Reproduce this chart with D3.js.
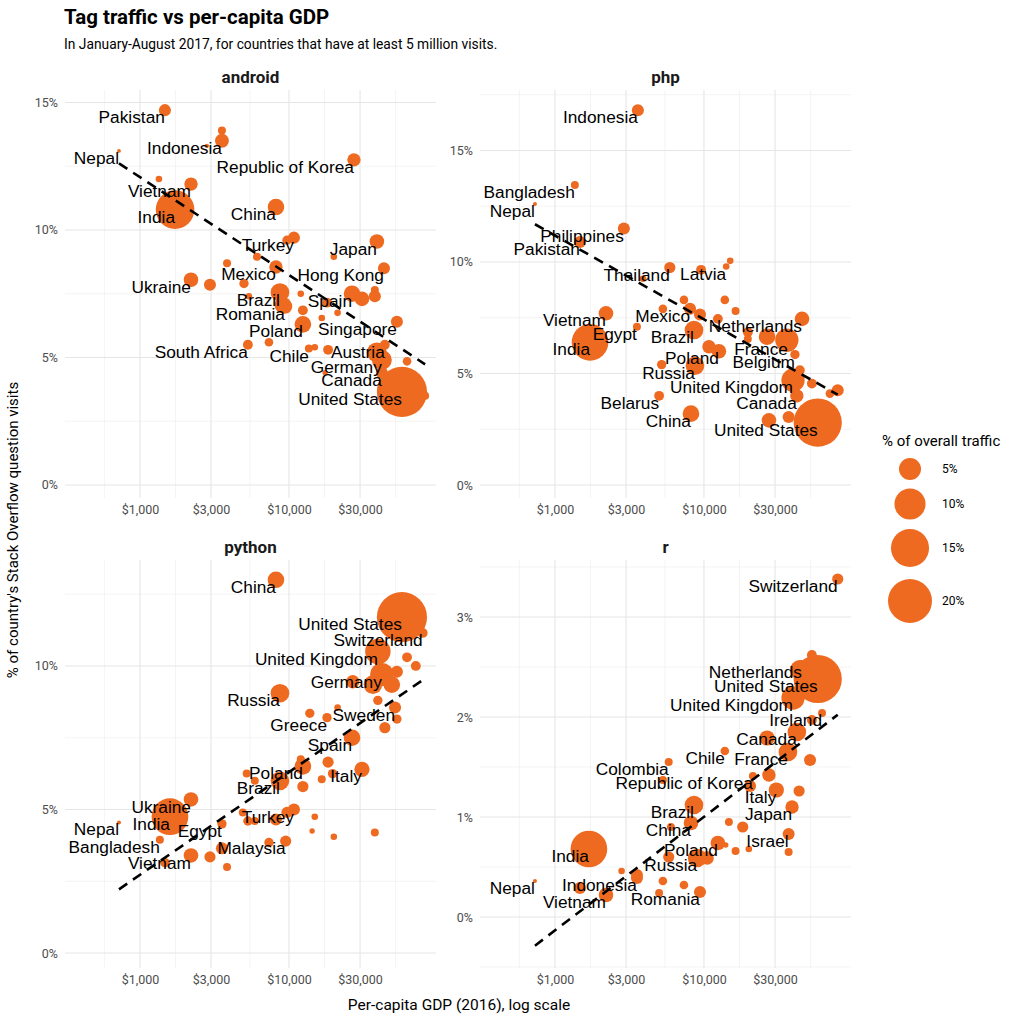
<!DOCTYPE html>
<html><head><meta charset="utf-8">
<script src="https://cdn.jsdelivr.net/npm/d3@7"></script>
<style>body{margin:0;background:#fff;font-family:Roboto,"Liberation Sans",sans-serif}</style>
</head><body>
<svg id="c" width="1024" height="1024"></svg>
<script>
// [country, per-capita GDP, % tag traffic, % overall traffic]
const androidData = [
["Pakistan",1470,14.7,1.5],["",3550,13.9,0.66],["Indonesia",3550,13.5,2.0],["",2810,13.3,0.2],
["Nepal",723,13.1,0.15],["",1340,12.0,0.45],["Vietnam",2200,11.8,1.85],["India",1720,10.8,15.4],
["China",8180,10.9,2.85],["Republic of Korea",27300,12.75,1.85],["Turkey",10800,9.7,1.5],["",9700,9.6,0.9],
["Japan",38900,9.55,2.2],["",20000,8.95,0.45],["",6100,8.95,0.66],["",3840,8.7,0.66],
["Mexico",8180,8.55,1.85],["Hong Kong",43400,8.5,1.5],["Ukraine",2200,8.05,2.2],["",2950,7.85,1.5],
["",4990,7.9,0.9],["Brazil",8700,7.55,3.6],["",9100,7.05,2.85],["Romania",9400,7.0,2.2],
["",5380,7.4,0.45],["",12000,7.5,0.45],["Spain",26500,7.5,2.85],["",30900,7.3,2.2],
["",37700,7.4,1.5],["",37700,7.65,0.66],["",18000,7.15,1.0],["",21200,6.75,0.45],
["",12400,6.85,1.0],["",16600,6.55,0.45],["Poland",12400,6.3,2.85],["Singapore",53000,6.4,1.5],
["South Africa",5300,5.5,1.0],["",7340,5.6,0.77],["Chile",13600,5.35,0.66],["",14900,5.4,0.45],
["",18300,5.3,1.0],["Austria",44000,5.5,1.0],["",38900,5.2,4.1],["Germany",42000,4.9,4.1],
["",62000,4.85,0.77],["Canada",42000,4.4,1.5],["",17500,4.4,0.3],["United States",57300,3.65,26],
["",82000,3.5,0.66]];
const phpData = [
["Indonesia",3600,16.8,1.5],["Bangladesh",1360,13.45,0.66],["Nepal",734,12.6,0.17],["Philippines",2900,11.5,1.5],
["Pakistan",1470,10.9,1.5],["Thailand",5900,9.75,1.3],["",3900,9.25,0.45],["Latvia",14100,9.8,0.45],
["",15000,10.05,0.45],["",9560,9.65,1.0],["",7340,8.3,0.77],["",13800,8.3,0.77],
["",5300,7.9,0.77],["Vietnam",2200,7.7,2.2],["Mexico",8060,7.9,1.5],["",9400,7.65,1.5],
["",12400,7.45,1.0],["",16300,7.8,0.66],["Netherlands",45500,7.45,2.2],["Egypt",3550,7.1,0.66],
["India",1720,6.4,13.9],["Brazil",8570,6.95,3.6],["",19700,6.85,1.0],["",19700,6.55,0.66],
["",26500,6.65,2.85],["",36000,6.5,5.6],["France",36600,6.4,3.6],["Belgium",40800,5.85,0.9],
["",10800,6.2,1.85],["Poland",12600,6.0,2.2],["Russia",8700,5.35,3.6],["",5200,5.4,0.9],
["United Kingdom",39600,4.7,5.6],["",44000,5.15,1.0],["",53000,4.55,1.0],["",70000,4.1,0.77],
["",79000,4.25,1.5],["Canada",42000,4.0,1.85],["Belarus",5000,4.0,1.0],["China",8180,3.2,2.85],
["",27300,2.9,2.2],["",37000,3.05,1.5],["United States",58000,2.8,24]];
const pythonData = [
["China",8180,13.0,2.85],["United States",57300,11.7,26],["Switzerland",79000,11.15,1.0],["United Kingdom",39500,10.5,6.7],
["",62000,10.3,1.0],["",71000,10.0,1.0],["Germany",42000,9.7,5.6],["",53000,9.8,1.5],
["",36600,9.35,3.6],["",49000,9.35,2.85],["",26800,9.45,1.85],["Russia",8700,9.05,3.6],
["",21200,8.55,0.45],["",13800,8.35,0.9],["Greece",18000,8.2,0.9],["",39500,8.8,0.9],
["Sweden",51500,8.55,1.5],["",53000,8.15,0.9],["",44000,7.85,1.3],["Spain",26500,7.5,2.85],
["Poland",12400,6.5,2.85],["",12000,6.75,0.66],["",18300,6.65,1.3],["Italy",30900,6.4,2.4],
["",19600,6.25,0.9],["",16600,6.05,0.66],["",5200,6.25,0.66],["",5900,6.0,0.66],
["Brazil",8700,6.0,3.6],["",12400,5.8,1.3],["Ukraine",2200,5.35,2.2],["India",1590,4.75,13.9],
["Nepal",723,4.55,0.17],["Bangladesh",1360,3.95,0.66],["Egypt",3550,4.5,0.9],["",4900,4.9,0.66],
["",5300,4.6,0.9],["",5900,4.6,0.66],["",9700,4.9,1.3],["Turkey",10800,5.0,1.5],
["",8180,4.65,1.5],["",14900,4.75,0.45],["",14300,4.25,0.3],["",20000,4.05,0.45],
["",37700,4.2,0.66],["",7340,3.85,0.9],["Malaysia",9500,3.9,1.3],["",3550,3.65,1.5],
["Vietnam",2200,3.4,2.2],["",2950,3.35,1.3],["",3840,3.0,0.66],["",1470,3.15,0.9]];
const rData = [
["Switzerland",79000,3.38,1.3],["United States",58000,2.38,24],["",53000,2.62,1.0],["",44000,2.47,4.1],
["Netherlands",45500,2.52,1.0],["United Kingdom",39600,2.19,5.6],["Ireland",62000,2.04,0.66],["",53000,1.97,1.0],
["Canada",42000,1.85,3.6],["France",36600,1.65,3.6],["",26500,1.79,2.4],["Chile",13800,1.66,0.77],
["",51500,1.57,1.5],["Colombia",5800,1.55,0.66],["",5300,1.37,0.66],["Republic of Korea",21300,1.41,0.66],
["",27300,1.42,1.85],["Italy",30600,1.27,2.4],["",43500,1.26,1.3],["",20400,1.31,1.5],
["Japan",39000,1.1,1.85],["Brazil",8570,1.12,3.6],["China",8180,0.94,2.2],["",14700,0.95,0.66],
["",18200,0.9,1.3],["",6000,0.9,0.66],["Israel",37000,0.83,1.5],["",37000,0.65,0.66],
["Poland",12400,0.74,2.2],["",14000,0.72,0.3],["",16300,0.66,0.66],["",20000,0.68,0.45],
["Russia",9000,0.59,3.6],["",10500,0.59,1.85],["India",1690,0.68,13.9],["",5800,0.6,1.3],
["",3550,0.42,1.5],["",2800,0.46,0.45],["",5300,0.36,0.77],["",7340,0.32,0.77],
["Romania",9400,0.25,1.5],["Indonesia",3550,0.39,1.5],["",1470,0.29,1.5],["Vietnam",2200,0.22,2.2],
["",5000,0.24,0.66],["Nepal",734,0.36,0.17]];
const tags = ["android","php","python","r"];
const tagData = [androidData, phpData, pythonData, rData];
const yDomains = [[-0.51,15.49],[-0.58,17.71],[-0.52,13.69],[-0.51,3.57]];
const yTicks = [[0,5,10,15],[0,5,10,15],[0,5,10],[0,1,2,3]];
const xTicks = [1000,3000,10000,30000];
const legendValues = [5,10,15,20];

const svg = d3.select("#c");
const orange = "#EE6A21";
const panels = [{x0:65,x1:436,y0:90,y1:498},{x0:480,x1:851,y0:90,y1:498},
                {x0:65,x1:436,y0:560,y1:968},{x0:480,x1:851,y0:560,y1:968}];
const rScale = d3.scaleSqrt().domain([0,20]).range([0,22]);

svg.append("text").attr("x",64).attr("y",24).attr("font-size",20.5).attr("font-weight","bold").attr("fill","#000")
  .text("Tag traffic vs per-capita GDP");
svg.append("text").attr("x",64).attr("y",49).attr("font-size",13.8).attr("fill","#000")
  .text("In January-August 2017, for countries that have at least 5 million visits.");

tags.forEach((tag,i)=>{
  const p = panels[i], data = tagData[i];
  const x = d3.scaleLog().domain([314,97000]).range([p.x0,p.x1]);
  const y = d3.scaleLinear().domain(yDomains[i]).range([p.y1,p.y0]);
  const g = svg.append("g");
  const xt = xTicks.map(x);
  const xMinor = [xt[0]-(xt[1]-xt[0])/2, (xt[0]+xt[1])/2, (xt[1]+xt[2])/2, (xt[2]+xt[3])/2, xt[3]+(xt[3]-xt[2])/2];
  xMinor.forEach(v=>{ if(v>p.x0&&v<p.x1) g.append("line").attr("x1",v).attr("x2",v).attr("y1",p.y0).attr("y2",p.y1).attr("stroke","#ececec").attr("stroke-width",0.6);});
  const yt = yTicks[i], step = yt[1]-yt[0];
  const ym = d3.range(yt[0]-step/2, yt[yt.length-1]+step, step);
  ym.forEach(v=>{const py=y(v); if(py>p.y0&&py<p.y1) g.append("line").attr("x1",p.x0).attr("x2",p.x1).attr("y1",py).attr("y2",py).attr("stroke","#ececec").attr("stroke-width",0.6);});
  xt.forEach(v=>g.append("line").attr("x1",v).attr("x2",v).attr("y1",p.y0).attr("y2",p.y1).attr("stroke","#e6e6e6").attr("stroke-width",1.1));
  yt.forEach(v=>g.append("line").attr("x1",p.x0).attr("x2",p.x1).attr("y1",y(v)).attr("y2",y(v)).attr("stroke","#e6e6e6").attr("stroke-width",1.1));
  const xa = g.append("g").attr("transform",`translate(0,${p.y1+4})`)
    .call(d3.axisBottom(x).tickValues(xTicks).tickFormat(d=>"$"+d3.format(",")(d)).tickSize(0));
  xa.select(".domain").remove();
  xa.selectAll("text").attr("font-size",12.5).attr("fill","#4d4d4d").attr("font-family","Roboto");
  const ya = g.append("g").attr("transform",`translate(${p.x0-4},0)`)
    .call(d3.axisLeft(y).tickValues(yt).tickFormat(d=>d+"%").tickSize(0));
  ya.select(".domain").remove();
  ya.selectAll("text").attr("font-size",12.5).attr("fill","#4d4d4d").attr("font-family","Roboto");
  svg.append("text").attr("x",(p.x0+p.x1)/2).attr("y",p.y0-7).attr("text-anchor","middle")
    .attr("font-size",17).attr("font-weight","bold").attr("fill","#1a1a1a").text(tag);
  g.selectAll("circle").data(data).join("circle")
    .attr("cx",d=>x(d[1])).attr("cy",d=>y(d[2])).attr("r",d=>rScale(d[3])).attr("fill",orange);
  const xs = data.map(d=>Math.log10(d[1])), ys = data.map(d=>d[2]);
  const mx = d3.mean(xs), my = d3.mean(ys);
  const b = d3.sum(xs.map((v,k)=>(v-mx)*(ys[k]-my)))/d3.sum(xs.map(v=>(v-mx)**2));
  const a = my-b*mx;
  const ext = d3.extent(data,d=>d[1]);
  g.append("line").attr("x1",x(ext[0])).attr("y1",y(a+b*Math.log10(ext[0])))
    .attr("x2",x(ext[1])).attr("y2",y(a+b*Math.log10(ext[1])))
    .attr("stroke","#000").attr("stroke-width",2.6).attr("stroke-dasharray","10,7");
  g.selectAll("text.lab").data(data.filter(d=>d[0])).join("text").attr("class","lab")
    .attr("x",d=>x(d[1])).attr("y",d=>y(d[2])+7).attr("dy","0.35em").attr("text-anchor","end")
    .attr("font-family","Liberation Sans, Arial").attr("font-size",17.3).attr("fill","#000").text(d=>d[0]);
});

svg.append("text").attr("transform","translate(18,530) rotate(-90)").attr("text-anchor","middle")
  .attr("font-size",15).attr("fill","#000").text("% of country's Stack Overflow question visits");
svg.append("text").attr("x",459).attr("y",1010).attr("text-anchor","middle")
  .attr("font-size",15.5).attr("fill","#000").text("Per-capita GDP (2016), log scale");

const lg = svg.append("g");
lg.append("text").attr("x",882).attr("y",446).attr("font-size",15).attr("fill","#000").text("% of overall traffic");
const ly = [469,504,548,601];
legendValues.forEach((v,k)=>{
  lg.append("circle").attr("cx",910).attr("cy",ly[k]).attr("r",rScale(v)).attr("fill",orange);
  lg.append("text").attr("x",942).attr("y",ly[k]).attr("dy","0.35em").attr("font-size",12).attr("fill","#000").text(v+"%");
});
</script>
</body></html>
